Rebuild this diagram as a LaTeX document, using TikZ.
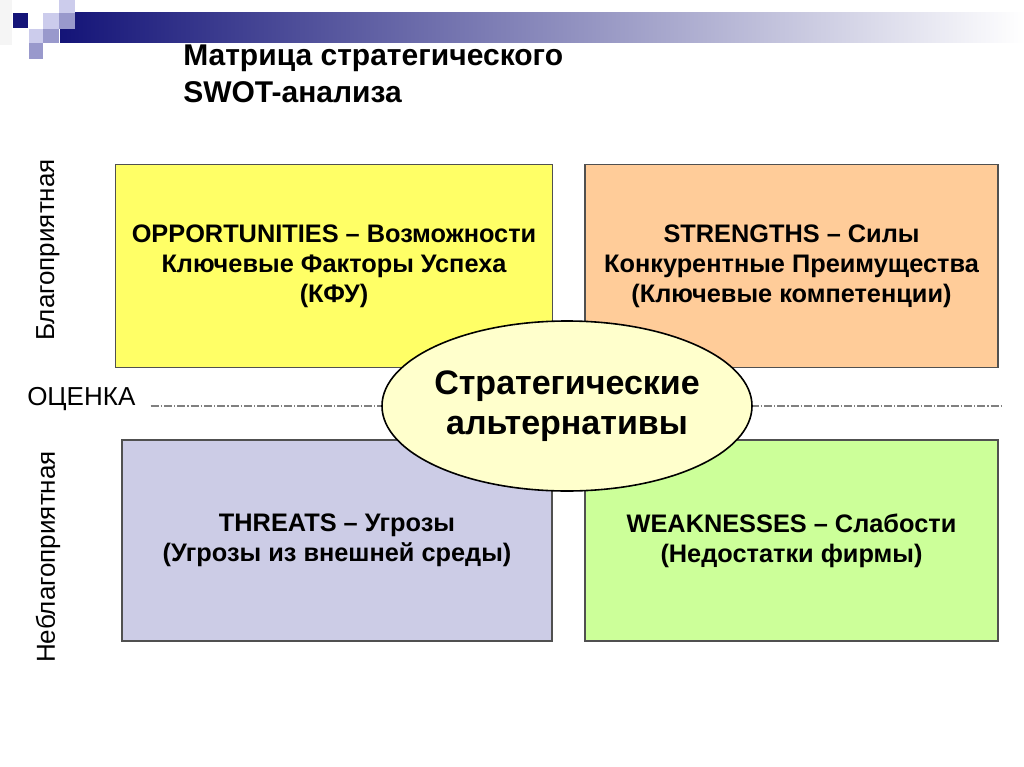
\documentclass[tikz,border=0pt]{standalone}
\usepackage{fontspec}
\setmainfont{Liberation Sans}
\usetikzlibrary{shapes.geometric}

\definecolor{navy}{RGB}{20,20,120}
\definecolor{lilaclight}{RGB}{204,204,236}
\definecolor{lilacmid}{RGB}{153,153,204}
\definecolor{oppfill}{RGB}{255,255,102}
\definecolor{strfill}{RGB}{255,204,153}
\definecolor{thrfill}{RGB}{204,204,230}
\definecolor{weakfill}{RGB}{204,255,153}
\definecolor{altfill}{RGB}{255,255,204}
\definecolor{edgegray}{RGB}{80,80,80}

\begin{document}
\begin{tikzpicture}[
       x=0.75pt, y=-0.75pt,
       quad/.style={draw=edgegray, line width=1.2pt, align=center,
                    font=\bfseries\fontsize{19}{22.5}\selectfont},
       tile/.style={fill=#1, draw=none},
       side/.style={font=\fontsize{19.5}{22}\selectfont}
   ]
   \useasboundingbox (0,0) rectangle (1024,767);
   \fill[white] (0,0) rectangle (1024,767);

   % header bar
   \shade[left color=navy, right color=white] (60,13) rectangle (1024,43);
   \fill[tile={black!4}] (0,0) rectangle (12,45);
   \fill[tile=navy] (13,13) rectangle (28,28);
   \fill[tile=lilaclight] (43,13) rectangle (59,29);
   \fill[tile=lilaclight] (29,29) rectangle (43,43);
   \fill[tile=lilacmid] (43,29) rectangle (59,43);
   \fill[tile=lilacmid] (29,43) rectangle (43,59);
   \fill[tile=lilaclight] (59,0) rectangle (75,13);
   \fill[tile=lilacmid] (59,13) rectangle (75,29);

   \node[anchor=west, align=left, inner sep=0pt,
         font=\bfseries\fontsize{22.5}{27.75}\selectfont]
       (title) at (183,74) {Матрица стратегического\\SWOT-анализа};

   % quadrants
   \node[quad, fill=oppfill, minimum width=437*0.75pt, minimum height=203*0.75pt]
       (opp) at (334,266) {OPPORTUNITIES -- Возможности\\Ключевые Факторы Успеха\\(КФУ)};
   \node[quad, fill=strfill, minimum width=413*0.75pt, minimum height=203*0.75pt]
       (str) at (791.5,266) {STRENGTHS -- Силы\\Конкурентные Преимущества\\(Ключевые компетенции)};
   \node[quad, fill=thrfill, minimum width=430*0.75pt, minimum height=201*0.75pt]
       (thr) at (337,540.5) {THREATS -- Угрозы\\(Угрозы из внешней среды)};
   \node[quad, fill=weakfill, minimum width=413*0.75pt, minimum height=201*0.75pt]
       (weak) at (791.5,540.5) {WEAKNESSES -- Слабости\\(Недостатки фирмы)};

   % axis labels
   \node[side, anchor=west, inner sep=0pt] (ocenka) at (27,399) {ОЦЕНКА};
   \node[side, rotate=90] (good) at (48,250) {Благоприятная};
   \node[side, rotate=90] (bad) at (48,557) {Неблагоприятная};

   \coordinate (axisend) at (1003,406);
   \draw[gray, line width=0.8pt, dash pattern=on 6pt off 1.5pt on 1pt off 1.5pt]
       (ocenka.east |- axisend) ++(15,0) -- (axisend);

   % centre
   \node[ellipse, draw=black, line width=1.2pt, fill=altfill, inner sep=-4pt,
         minimum width=370*0.75pt, minimum height=170*0.75pt, align=center,
         font=\bfseries\fontsize{25.5}{30}\selectfont]
       (alt) at (567,406) {Стратегические\\альтернативы};
\end{tikzpicture}
\end{document}
